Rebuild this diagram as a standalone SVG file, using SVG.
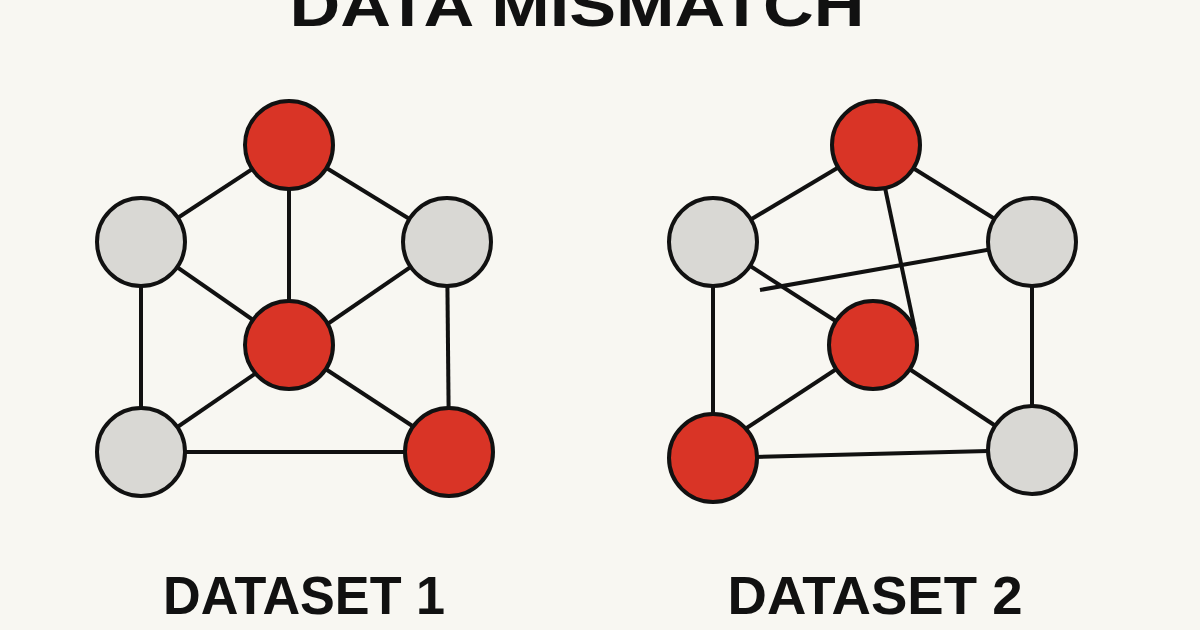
<svg xmlns="http://www.w3.org/2000/svg" width="1200" height="630" viewBox="0 0 1200 630">
<style>
.e{stroke:#111;stroke-width:4;fill:none}
.r{fill:#d93426;stroke:#111;stroke-width:4}
.g{fill:#d9d8d4;stroke:#111;stroke-width:4}
.t{font-family:"Liberation Sans",Arial,sans-serif;font-weight:bold;fill:#111}
</style>
<rect width="1200" height="630" fill="#f8f7f2"/>
<text class="t" x="577" y="26" font-size="60" text-anchor="middle" textLength="575" lengthAdjust="spacingAndGlyphs">DATA MISMATCH</text>
<g id="connectors">
<line class="e" x1="289" y1="145" x2="141" y2="242"/>
<line class="e" x1="289" y1="145" x2="289" y2="345"/>
<line class="e" x1="289" y1="145" x2="447" y2="242"/>
<line class="e" x1="141" y1="242" x2="289" y2="345"/>
<line class="e" x1="141" y1="242" x2="141" y2="450"/>
<line class="e" x1="447" y1="242" x2="449" y2="450"/>
<line class="e" x1="447" y1="242" x2="141" y2="452"/>
<line class="e" x1="289" y1="345" x2="449" y2="450"/>
<line class="e" x1="141" y1="452" x2="449" y2="452"/>
<line class="e" x1="876" y1="145" x2="713" y2="242"/>
<line class="e" x1="876" y1="145" x2="1032" y2="242"/>
<line class="e" x1="876" y1="145" x2="915" y2="330"/>
<line class="e" x1="713" y1="242" x2="873" y2="345"/>
<line class="e" x1="760" y1="290" x2="1032" y2="242"/>
<line class="e" x1="713" y1="242" x2="713" y2="450"/>
<line class="e" x1="1032" y1="242" x2="1032" y2="450"/>
<line class="e" x1="873" y1="345" x2="713" y2="450"/>
<line class="e" x1="873" y1="345" x2="1032" y2="450"/>
<line class="e" x1="713" y1="458" x2="1032" y2="450"/>
</g>
<g id="n1"><circle class="r" cx="289" cy="145" r="44"/></g>
<g id="n2"><circle class="g" cx="141" cy="242" r="44"/></g>
<g id="n3"><circle class="g" cx="447" cy="242" r="44"/></g>
<g id="n4"><circle class="r" cx="289" cy="345" r="44"/></g>
<g id="n5"><circle class="g" cx="141" cy="452" r="44"/></g>
<g id="n6"><circle class="r" cx="449" cy="452" r="44"/></g>
<g id="m1"><circle class="r" cx="876" cy="145" r="44"/></g>
<g id="m2"><circle class="g" cx="713" cy="242" r="44"/></g>
<g id="m3"><circle class="g" cx="1032" cy="242" r="44"/></g>
<g id="m4"><circle class="r" cx="873" cy="345" r="44"/></g>
<g id="m5"><circle class="r" cx="713" cy="458" r="44"/></g>
<g id="m6"><circle class="g" cx="1032" cy="450" r="44"/></g>
<text class="t" x="304" y="614" font-size="54" text-anchor="middle" textLength="282" lengthAdjust="spacingAndGlyphs">DATASET 1</text>
<text class="t" x="875" y="614" font-size="54" text-anchor="middle" textLength="295" lengthAdjust="spacingAndGlyphs">DATASET 2</text>
</svg>
